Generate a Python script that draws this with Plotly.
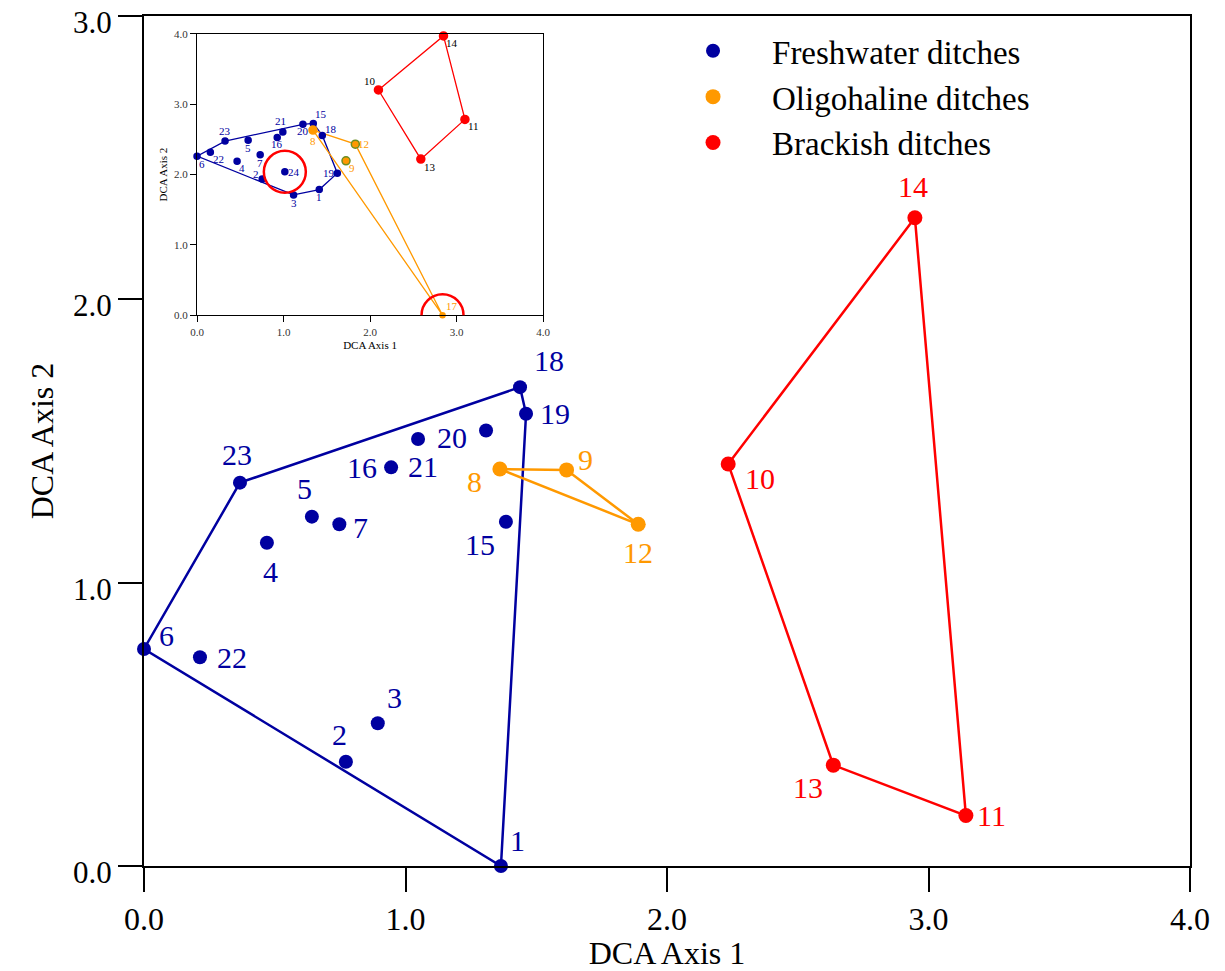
import plotly.graph_objects as go

# ---------------- main plot data ----------------
fresh_ids = [1, 2, 3, 4, 5, 6, 7, 15, 16, 18, 19, 20, 21, 22, 23]
fresh_x = [1.365, 0.772, 0.894, 0.470, 0.642, 0.000, 0.747, 1.384, 0.945, 1.438, 1.461, 1.308, 1.048, 0.214, 0.367]
fresh_y = [0.000, 0.368, 0.504, 1.141, 1.233, 0.766, 1.206, 1.215, 1.407, 1.690, 1.596, 1.537, 1.507, 0.737, 1.353]

olig_ids = [8, 9, 12]
olig_x = [1.361, 1.616, 1.890]
olig_y = [1.401, 1.398, 1.206]

brack_ids = [10, 11, 13, 14]
brack_x = [2.234, 3.143, 2.636, 2.948]
brack_y = [1.419, 0.178, 0.356, 2.288]

fresh_hull = [6, 23, 18, 19, 1, 6]
olig_hull = [8, 9, 12, 8]
brack_hull = [10, 14, 11, 13, 10]

x_ticks = [0, 1, 2, 3, 4]
y_ticks = [0, 1, 2, 3]

# ---------------- inset data ----------------
in_fresh_ids = [1, 2, 3, 4, 5, 6, 7, 15, 16, 18, 19, 20, 21, 22, 23, 24]
in_fresh_x = [1.413, 0.753, 1.116, 0.463, 0.591, 0.000, 0.730, 1.344, 0.927, 1.448, 1.622, 1.224, 0.992, 0.154, 0.324, 1.015]
in_fresh_y = [1.786, 1.938, 1.710, 2.190, 2.489, 2.261, 2.280, 2.727, 2.527, 2.556, 2.019, 2.713, 2.603, 2.318, 2.475, 2.038]

in_olig_ids = [8, 9, 12, 17]
in_olig_x = [1.340, 1.722, 1.830, 2.838]
in_olig_y = [2.632, 2.195, 2.432, 0.000]

in_brack_ids = [10, 11, 13, 14]
in_brack_x = [2.097, 3.097, 2.587, 2.849]
in_brack_y = [3.202, 2.784, 2.219, 3.971]

in_fresh_hull = [6, 23, 20, 15, 18, 19, 1, 3, 6]
in_olig_hull = [8, 12, 17, 8]
in_brack_hull = [10, 14, 11, 13, 10]
in_highlight = [24, 17]
in_ticks = [0, 1, 2, 3, 4]

# ---------------- styles ----------------
BLUE = "#0000A0"
ORANGE = "#FF9900"
RED = "#FF0000"
GREEN = "#6B8E23"
FONT = "Liberation Serif, Times New Roman, serif"

# label offsets in pixels (dx, dy up)
main_off = {
    "f": {1: (17, 26), 2: (-6, 27), 3: (17, 26), 4: (4, -29), 5: (-7, 28), 6: (22, 13),
          7: (21, -3), 15: (-26, -23), 16: (-29, 0), 18: (29, 27), 19: (29, 0),
          20: (-34, -7), 21: (5, -27), 22: (32, 0), 23: (-3, 28)},
    "o": {8: (-25, -12), 9: (19, 10), 12: (0, -28)},
    "b": {10: (32, -15), 11: (26, 0), 13: (-25, -22), 14: (-2, 31)},
}
inset_off = {
    "f": {6: (5, -8), 22: (8, -7), 23: (0, 10), 4: (5, -7), 5: (0, -8), 7: (0, -8), 2: (-6, 5),
          16: (0, -7), 21: (-2, 11), 24: (9, 0), 20: (0, -7), 15: (8, 9), 18: (9, 6),
          19: (-8, 0), 1: (0, -7), 3: (0, -8)},
    "o": {8: (0, -11), 12: (8, 0), 9: (6, -7), 17: (9, 9)},
    "b": {10: (-8, 9), 14: (9, -7), 11: (9, -7), 13: (9, -8)},
}


def hull_xy(ids, xs, ys, order):
    lookup = {i: (x, y) for i, x, y in zip(ids, xs, ys)}
    return [lookup[i][0] for i in order], [lookup[i][1] for i in order]


fig = go.Figure()

groups = [
    ("f", "Freshwater ditches", fresh_ids, fresh_x, fresh_y, fresh_hull, BLUE, 14),
    ("o", "Oligohaline ditches", olig_ids, olig_x, olig_y, olig_hull, ORANGE, 15),
    ("b", "Brackish ditches", brack_ids, brack_x, brack_y, brack_hull, RED, 15),
]

annotations = []
for key, name, ids, xs, ys, hull, color, msize in groups:
    hx, hy = hull_xy(ids, xs, ys, hull)
    fig.add_trace(go.Scatter(x=hx, y=hy, mode="lines", line=dict(color=color, width=2.5),
                             showlegend=False, hoverinfo="skip", xaxis="x", yaxis="y"))
for key, name, ids, xs, ys, hull, color, msize in groups:
    fig.add_trace(go.Scatter(x=xs, y=ys, mode="markers", name=name,
                             marker=dict(color=color, size=msize, opacity=1), cliponaxis=False,
                             text=[str(i) for i in ids], xaxis="x", yaxis="y"))
    for i, x, y in zip(ids, xs, ys):
        dx, dy = main_off[key][i]
        annotations.append(dict(x=x, y=y, xref="x", yref="y", text=str(i), showarrow=False,
                                xshift=dx, yshift=dy, font=dict(family=FONT, size=30, color=color)))

# inset
in_groups = [
    ("f", in_fresh_ids, in_fresh_x, in_fresh_y, in_fresh_hull, BLUE, BLUE),
    ("o", in_olig_ids, in_olig_x, in_olig_y, in_olig_hull, ORANGE, ORANGE),
    ("b", in_brack_ids, in_brack_x, in_brack_y, in_brack_hull, RED, "black"),
]
for key, ids, xs, ys, hull, color, lcolor in in_groups:
    hx, hy = hull_xy(ids, xs, ys, hull)
    fig.add_trace(go.Scatter(x=hx, y=hy, mode="lines", line=dict(color=color, width=1.3),
                             showlegend=False, hoverinfo="skip", xaxis="x2", yaxis="y2"))
for key, ids, xs, ys, hull, color, lcolor in in_groups:
    if key == "f":
        sizes = [6] * len(ids)
        lines = [color] * len(ids)
    elif key == "o":
        sizes = [8 if i != 17 else 5 for i in ids]
        lines = [GREEN if i in (9, 12) else ORANGE for i in ids]
    else:
        sizes = [8] * len(ids)
        lines = [color] * len(ids)
    fig.add_trace(go.Scatter(x=xs, y=ys, mode="markers", showlegend=False, cliponaxis=False,
                             marker=dict(color=color, size=sizes, opacity=1,
                                         line=dict(color=lines, width=1.5)),
                             xaxis="x2", yaxis="y2"))
    for i, x, y in zip(ids, xs, ys):
        dx, dy = inset_off[key][i]
        annotations.append(dict(x=x, y=y, xref="x2", yref="y2", text=str(i), showarrow=False,
                                xshift=dx, yshift=dy, font=dict(family=FONT, size=11, color=lcolor)))

# red highlight circles in inset
all_in = {i: (x, y) for i, x, y in zip(in_fresh_ids + in_olig_ids, in_fresh_x + in_olig_x, in_fresh_y + in_olig_y)}
shapes = []
for i in in_highlight:
    cx, cy = all_in[i]
    shapes.append(dict(type="circle", xref="x2", yref="y2", xsizemode="pixel", ysizemode="pixel",
                       xanchor=cx, yanchor=cy, x0=-21, x1=21, y0=-21, y1=21,
                       line=dict(color=RED, width=2.5), fillcolor="rgba(0,0,0,0)"))

tick_txt = lambda v: [f"{t:.1f}" for t in v]

fig.update_layout(
    width=1225, height=971,
    margin=dict(l=144, r=35, t=16, b=105, autoexpand=False),
    paper_bgcolor="white", plot_bgcolor="white",
    font=dict(family=FONT, color="black"),
    annotations=annotations,
    shapes=shapes,
    xaxis=dict(range=[0, 4], tickvals=x_ticks, ticktext=tick_txt(x_ticks), showgrid=False, zeroline=False,
               showline=True, linecolor="black", linewidth=2, mirror=True, automargin=False,
               ticks="outside", ticklen=24, tickwidth=2, tickcolor="black",
               ticklabeloverflow="allow",
               tickfont=dict(size=32, family=FONT),
               title=dict(text="DCA Axis 1", font=dict(size=32, family=FONT), standoff=10)),
    yaxis=dict(range=[0, 3], tickvals=y_ticks, ticktext=tick_txt(y_ticks), showgrid=False, zeroline=False,
               showline=True, linecolor="black", linewidth=2, mirror=True, automargin=False,
               ticks="outside", ticklen=24, tickwidth=2, tickcolor="black",
               ticklabeloverflow="allow", ticklabelshift=6,
               tickfont=dict(size=31, family=FONT),
               title=dict(text="DCA Axis 2", font=dict(size=32, family=FONT), standoff=10)),
    xaxis2=dict(domain=[0.0507, 0.3815], anchor="y2", range=[0, 4], tickvals=in_ticks,
                ticktext=tick_txt(in_ticks), showgrid=False, zeroline=False, automargin=False,
                showline=True, linecolor="black", linewidth=1.3, mirror=True,
                ticks="outside", ticklen=6, tickwidth=1.3, tickcolor="black",
                tickfont=dict(size=11, family=FONT, color="#333333"),
                title=dict(text="DCA Axis 1", font=dict(size=11, family=FONT), standoff=4)),
    yaxis2=dict(domain=[0.648, 0.979], anchor="x2", range=[0, 4], tickvals=in_ticks,
                ticktext=tick_txt(in_ticks), showgrid=False, zeroline=False, automargin=False,
                showline=True, linecolor="black", linewidth=1.3, mirror=True,
                ticks="outside", ticklen=6, tickwidth=1.3, tickcolor="black",
                tickfont=dict(size=11, family=FONT, color="#333333"),
                title=dict(text="DCA Axis 2", font=dict(size=11, family=FONT), standoff=4)),
    legend=dict(x=0.4876, y=0.992, xanchor="left", yanchor="top", bgcolor="rgba(0,0,0,0)",
                font=dict(size=33, family=FONT), itemwidth=108, tracegroupgap=0),
)

fig.write_html("out.html")
